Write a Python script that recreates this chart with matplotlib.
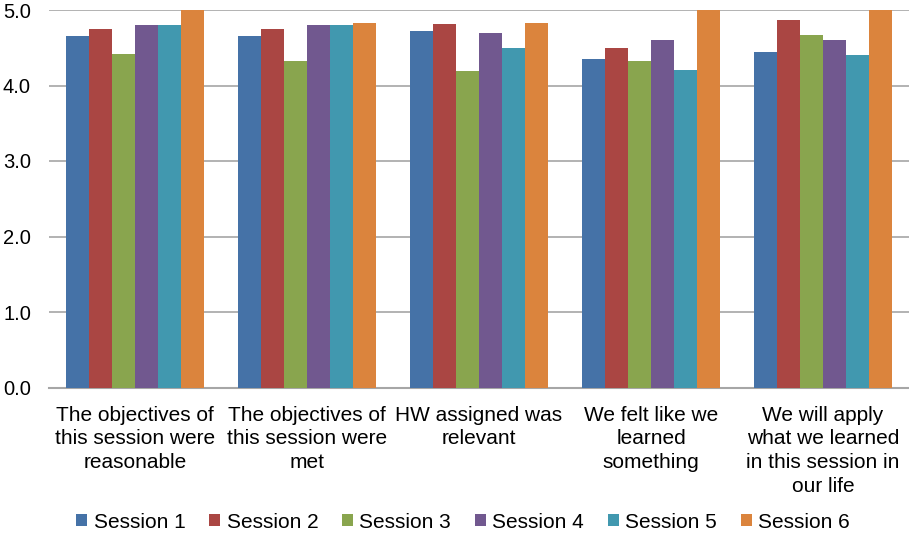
import matplotlib.pyplot as plt
import numpy as np

plt.rcParams['font.family'] = ['Liberation Sans', 'DejaVu Sans']

# Categories and series values
categories = [
    "The objectives of\nthis session were\nreasonable",
    "The objectives of\nthis session were\nmet",
    "HW assigned was\nrelevant",
    "We felt like we\nlearned\nsomething",
    "We will apply\nwhat we learned\nin this session in\nour life",
]
session_names = ["Session 1", "Session 2", "Session 3", "Session 4", "Session 5", "Session 6"]
session_1 = [4.65, 4.65, 4.72, 4.35, 4.44]
session_2 = [4.75, 4.75, 4.81, 4.50, 4.87]
session_3 = [4.42, 4.33, 4.19, 4.33, 4.67]
session_4 = [4.80, 4.80, 4.70, 4.60, 4.60]
session_5 = [4.80, 4.80, 4.50, 4.20, 4.40]
session_6 = [5.00, 4.83, 4.83, 5.00, 5.00]
y_ticks = [0.0, 1.0, 2.0, 3.0, 4.0, 5.0]

series = [session_1, session_2, session_3, session_4, session_5, session_6]
colors = ['#4572A7', '#AA4643', '#89A54E', '#71588F', '#4198AF', '#DB843D']

fig = plt.figure(figsize=(9.09, 5.36), dpi=100)
ax = fig.add_axes([49 / 909, 1 - 387.5 / 536, 860 / 909, 377.5 / 536])

x = np.arange(len(categories))
n = len(series)
bar_w = 0.8 / n
for i, (vals, name, c) in enumerate(zip(series, session_names, colors)):
    ax.bar(x - 0.4 + bar_w * (i + 0.5), vals, width=bar_w, color=c, label=name, zorder=3)

ax.set_xlim(-0.5, len(categories) - 0.5)
ax.set_ylim(0, 5)
ax.set_yticks(y_ticks)
ax.set_yticklabels([f"{t:.1f}" for t in y_ticks], fontsize=14.5)
ax.yaxis.grid(True, color='#A6A6A6', linewidth=1.2, zorder=0)
ax.set_xticks(x)
ax.set_xticklabels(categories, fontsize=15, linespacing=1.31, va='top')
ax.tick_params(axis='both', length=0)
ax.tick_params(axis='x', pad=13)
ax.tick_params(axis='y', pad=13)

for side in ['top', 'right', 'left']:
    ax.spines[side].set_visible(False)
ax.spines['bottom'].set_color('#A6A6A6')
ax.spines['bottom'].set_linewidth(1.5)

fig.legend(loc='center', bbox_to_anchor=(463 / 909, 1 - 522 / 536), ncol=6, frameon=False,
           fontsize=15, handlelength=0.55, handleheight=0.55, handletextpad=0.3,
           columnspacing=1.13)

fig.savefig('out.png', dpi=100)
